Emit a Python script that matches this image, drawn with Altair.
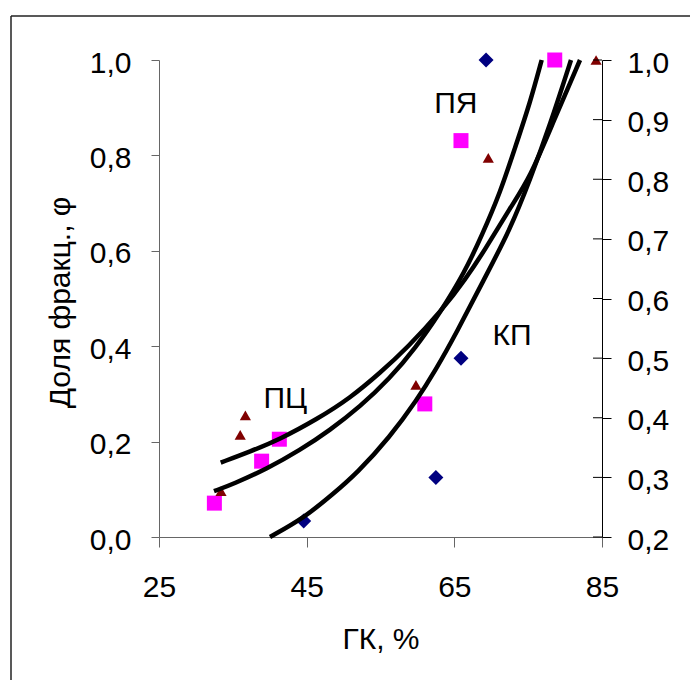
import altair as alt
import pandas as pd

# ---- data ----
# markers
kp_x = [44.6, 62.5, 65.9, 69.3]            # КП (right axis)
kp_y = [0.227, 0.30, 0.50, 1.0]
pya_x = [32.5, 38.9, 41.3, 61.0, 65.9, 78.6]  # ПЯ (left axis)
pya_y = [0.071, 0.159, 0.205, 0.279, 0.831, 1.0]
pc_x = [33.4, 36.0, 36.7, 59.8, 69.6, 84.2]   # ПЦ (left axis)
pc_y = [0.096, 0.214, 0.255, 0.319, 0.795, 1.0]

# trend curves
pya_cx = [32.45, 35.02, 39.63, 44.10, 48.16, 52.22, 56.29, 59.67, 63.06, 66.44, 68.75, 71.19, 73.22, 75.25, 76.83]
pya_cy = [0.096, 0.111, 0.143, 0.182, 0.224, 0.273, 0.333, 0.395, 0.470, 0.556, 0.633, 0.721, 0.816, 0.910, 1.0]
pc_cx = [33.36, 37.33, 41.39, 46.40, 50.87, 54.93, 58.59, 63.47, 66.44, 69.15, 72.54, 75.25, 78.50, 82.02]
pc_cy = [0.156, 0.179, 0.205, 0.247, 0.291, 0.344, 0.396, 0.478, 0.539, 0.602, 0.690, 0.753, 0.874, 1.0]
kp_cx = [40.03, 44.64, 48.56, 51.82, 56.29, 59.94, 62.38, 65.36, 68.88, 72.54, 75.25, 77.96, 80.80]
kp_cy = [0.200, 0.232, 0.272, 0.307, 0.368, 0.430, 0.478, 0.544, 0.629, 0.715, 0.799, 0.891, 1.0]

# curve labels (left-axis units)
lab_text = ["ПЯ", "КП", "ПЦ"]
lab_x = [65.2, 72.8, 42.1]
lab_y = [0.908, 0.422, 0.289]

# axis ticks
x_ticks = [25, 45, 65, 85]
left_ticks = [0.0, 0.2, 0.4, 0.6, 0.8, 1.0]
right_ticks = [0.2, 0.3, 0.4, 0.5, 0.6, 0.7, 0.8, 0.9, 1.0]

FONT = "Liberation Sans"
W, H = 443, 477
comma = "replace(format(datum.value, '.1f'), '.', ',')"

X = alt.X("x:Q", scale=alt.Scale(domain=[25, 85], nice=False, zero=False),
          axis=alt.Axis(values=x_ticks, title="ГК, %", tickSize=10, labelPadding=25,
                        titleY=87, labelFlush=False, labelOverlap=False,
                        domainColor="#666666", tickColor="#666666", grid=False))

YL = alt.Y("y:Q", scale=alt.Scale(domain=[0, 1], nice=False, zero=False),
           axis=alt.Axis(orient="left", values=left_ticks, labelExpr=comma,
                         title="Доля фракц., φ", tickSize=8, labelPadding=20,
                         labelOffset=3, titleX=-84, titleY=242, labelFlush=False,
                         labelOverlap=False, domainColor="#666666",
                         tickColor="#666666", grid=False))

YR = alt.Y("y:Q", scale=alt.Scale(domain=[0.2, 1], nice=False, zero=False),
           axis=alt.Axis(orient="right", values=right_ticks, labelExpr=comma,
                         title="", tickSize=9, labelPadding=16, labelOffset=3,
                         labelFlush=False, labelOverlap=False,
                         domainColor="black", tickColor="black", grid=False))

df_pya = pd.DataFrame({"x": pya_x, "y": pya_y})
df_pc = pd.DataFrame({"x": pc_x, "y": pc_y})
df_kp = pd.DataFrame({"x": kp_x, "y": kp_y})
df_pya_c = pd.DataFrame({"x": pya_cx, "y": pya_cy})
df_pc_c = pd.DataFrame({"x": pc_cx, "y": pc_cy})
df_kp_c = pd.DataFrame({"x": kp_cx, "y": kp_cy})
df_lab = pd.DataFrame({"x": lab_x, "y": lab_y, "t": lab_text})
df_rt = pd.DataFrame({"y": right_ticks})
df_one = pd.DataFrame({"a": [0]})

pya_pts = alt.Chart(df_pya).mark_square(size=225, color="#FF00FF", opacity=1).encode(x=X, y=YL)
pc_pts = alt.Chart(df_pc).mark_point(shape="triangle-up", filled=True, size=125,
                                     color="#800000", opacity=1).encode(x=X, y=YL)
pya_line = alt.Chart(df_pya_c).mark_line(color="black", strokeWidth=4.5,
                                         interpolate="basis").encode(x=X, y=YL)
pc_line = alt.Chart(df_pc_c).mark_line(color="black", strokeWidth=4.5,
                                       interpolate="basis").encode(x=X, y=YL)
labels = alt.Chart(df_lab).mark_text(font=FONT, fontSize=30, color="black",
                                     baseline="middle", align="center").encode(x=X, y=YL, text="t:N")
frame_left = alt.Chart(df_one).mark_rule(color="#222222", strokeWidth=1.5).encode(
    x=alt.value(-148), x2=alt.value(-148), y=alt.value(-44), y2=alt.value(640))
frame_top = alt.Chart(df_one).mark_rule(color="#222222", strokeWidth=1.5).encode(
    x=alt.value(-148), x2=alt.value(560), y=alt.value(-44), y2=alt.value(-44))

left_group = alt.layer(pya_pts, pc_pts, pya_line, pc_line, labels, frame_left, frame_top)

kp_pts = alt.Chart(df_kp).mark_point(shape="diamond", filled=True, size=225,
                                     color="#000080", opacity=1).encode(x=X, y=YR)
kp_line = alt.Chart(df_kp_c).mark_line(color="black", strokeWidth=4.5,
                                       interpolate="basis").encode(x=X, y=YR)
inner_ticks = alt.Chart(df_rt).mark_rule(color="black", strokeWidth=1).encode(
    y=YR, x=alt.value(W - 9), x2=alt.value(W))

right_group = alt.layer(kp_pts, kp_line, inner_ticks)

chart = alt.layer(left_group, right_group).resolve_scale(y="independent").properties(
    width=W, height=H,
    autosize=alt.AutoSizeParams(type="none"),
    padding={"left": 159, "top": 60, "right": 88, "bottom": 143},
    background="white",
).configure_view(strokeWidth=0).configure_axis(
    labelFont=FONT, labelFontSize=30, labelColor="black",
    titleFont=FONT, titleFontSize=30, titleColor="black", titleFontWeight="normal",
    domainWidth=1, tickWidth=1,
)

chart.save("out.html", embed_options={"renderer": "svg", "actions": False})
